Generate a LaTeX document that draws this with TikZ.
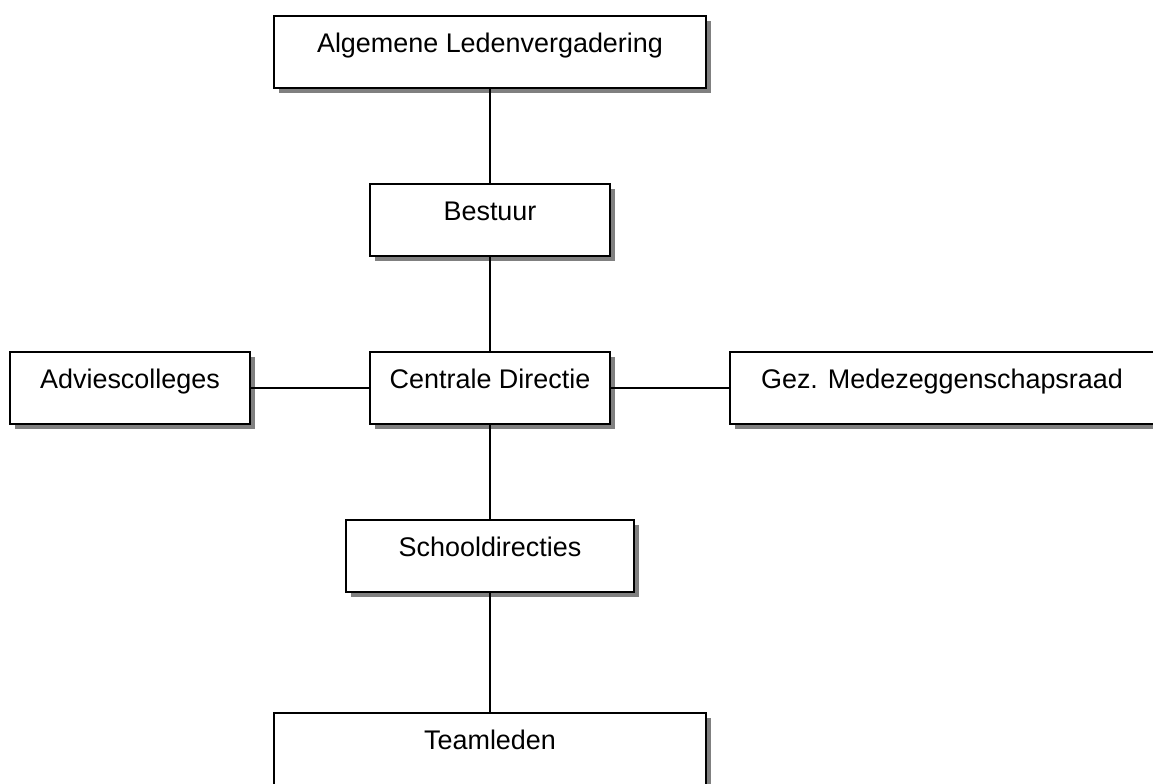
\documentclass[tikz,border=0pt]{standalone}
\usepackage{fontspec}
\setmainfont{Liberation Sans}
\usepackage{tikz}
\usetikzlibrary{shadows}

\begin{document}
\begin{tikzpicture}[x=0.75pt,y=-0.75pt,
    box/.style={rectangle,draw=black,line width=1.4pt,fill=white,
        inner sep=0pt,outer sep=0pt,text height=27pt,text depth=27pt,
        font=\fontsize{20.2}{24}\selectfont,
        drop shadow={shadow xshift=4pt,shadow yshift=-4pt,fill=gray,opacity=1}}]

    \useasboundingbox (0,0) rectangle (1153,783);

    % Place the boxes of the organisation
    \node[box,minimum width=324pt] (alv)     at (490,52)  {Algemene Ledenvergadering};
    \node[box,minimum width=180pt] (bestuur) at (490,220) {Bestuur};
    \node[box,minimum width=180pt] (cd)      at (490,388) {Centrale Directie};
    \node[box,minimum width=180pt] (advies)  at (130,388) {Adviescolleges};
    \node[box,minimum width=318pt] (gmr)     at (942,388) {Gez. Medezeggenschapsraad};
    \node[box,minimum width=216pt] (sd)      at (490,556) {Schooldirecties};
    \node[box,minimum width=324pt] (team)    at (490,749) {Teamleden};

    % Draw the lines
    \draw[line width=1.4pt] (alv) -- (bestuur) -- (cd) -- (sd) -- (team);
    \draw[line width=1.4pt] (advies) -- (cd) -- (gmr);

\end{tikzpicture}
\end{document}
